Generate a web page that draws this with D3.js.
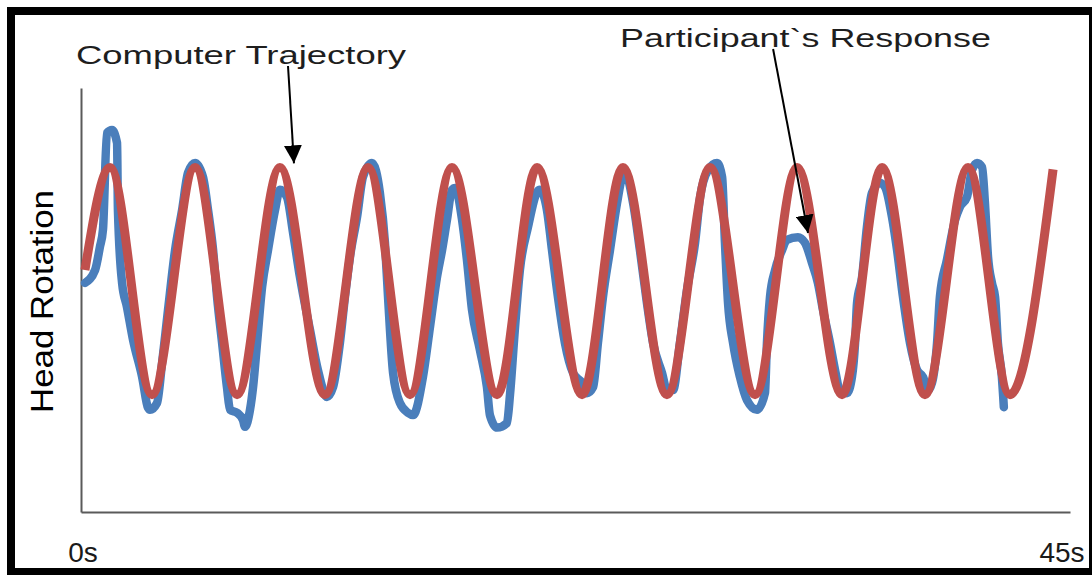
<!DOCTYPE html>
<html>
<head>
<meta charset="utf-8">
<script src="https://cdn.jsdelivr.net/npm/d3@7"></script>
<style>
  html, body { margin: 0; padding: 0; background: #ffffff; }
  svg { display: block; }
</style>
</head>
<body>
<svg id="chart" width="1092" height="575"></svg>
<script>
// ---------------- data ----------------
// Computer trajectory: turning points (time in s, head rotation in deg)
const computerTime = [0.18, 1.32, 3.23, 5.19, 7.10, 9.05, 11.10, 13.06, 14.97, 16.88, 18.93,
  20.75, 22.80, 24.66, 26.66, 28.62, 30.67, 32.58, 34.63, 36.45, 38.40, 40.36, 42.27, 44.23];
const computerAngle = [2.9, 30, -30, 30, -30, 30, -30, 30, -30, 30, -30,
  30, -30, 30, -30, 30, -30, 30, -30, 30, -30, 30, -30, 29.5];

// Participant's response (time in s, head rotation in deg)
const participantTime = [0.18, 0.64, 0.86, 1.00, 1.18, 1.41, 1.64, 1.68, 1.87, 2.09, 2.37, 2.78, 3.05, 3.14,
  3.46, 3.69, 3.96, 4.28, 4.60, 4.87, 5.19, 5.55, 5.78, 6.01, 6.19, 6.42, 6.64, 6.78, 7.10, 7.37, 7.46,
  7.69, 7.83, 8.01, 8.24, 8.51, 8.83, 9.05, 9.37, 9.65, 9.96, 10.42, 10.78, 11.19, 11.47, 11.78, 12.01,
  12.24, 12.56, 12.83, 13.24, 13.60, 13.83, 13.97, 14.20, 14.51, 14.88, 15.11, 15.56, 15.88, 16.20,
  16.43, 16.65, 16.88, 17.02, 17.34, 17.56, 17.79, 18.15, 18.47, 18.61, 18.93, 19.38, 19.52, 19.75,
  19.97, 20.34, 20.75, 20.88, 21.20, 21.43, 21.70, 22.02, 22.39, 22.80, 23.02, 23.30, 23.52, 23.75,
  24.07, 24.39, 24.62, 24.75, 25.12, 25.43, 25.75, 26.03, 26.44, 26.66, 26.94, 27.25, 27.57, 27.94,
  28.17, 28.53, 28.94, 29.17, 29.30, 29.44, 29.67, 29.98, 30.30, 30.76, 31.12, 31.21, 31.35, 31.58,
  31.90, 32.12, 32.62, 32.94, 33.26, 33.53, 33.76, 34.08, 34.31, 34.53, 34.85, 35.08, 35.22, 35.31,
  35.54, 35.76, 35.99, 36.35, 36.58, 36.90, 37.13, 37.40, 37.72, 38.04, 38.31, 38.54, 38.72, 38.95,
  39.08, 39.40, 39.77, 39.99, 40.31, 40.54, 40.77, 41.00, 41.13, 41.27, 41.45, 41.59, 41.72, 41.90, 41.99];
const participantAngle = [-0.5, 2.9, 9.0, 13.6, 39.1, 39.9, 36.5, 18.8, -0.5, -6.8, -15.6, -25.3, -33.5, -34.0,
  -32.2, -21.6, -7.6, 8.2, 18.8, 28.6, 31.2, 27.5, 18.8, 8.2, -4.2, -16.4, -28.0, -34.0, -34.8, -36.7, -38.5,
  -34.0, -28.0, -16.4, -1.6, 8.2, 18.8, 24.1, 22.2, 12.7, 1.1, -12.9, -23.5, -30.6, -28.0, -16.4, -4.2,
  6.4, 16.9, 27.5, 31.2, 23.3, 10.1, -4.2, -24.3, -32.2, -34.8, -35.4, -25.3, -12.1, 1.1,
  8.2, 16.1, 24.1, 24.6, 16.1, 5.6, -7.6, -18.2, -28.0, -35.5, -38.7, -37.5, -30.0, -12.1,
  2.9, 14.3, 23.5, 24.1, 18.8, 8.2, -4.2, -16.4, -24.3, -26.9, -29.6, -28.0, -16.4, -4.2,
  8.2, 20.6, 27.5, 28.6, 20.6, 8.2, -5.8, -16.4, -24.3, -28.8, -28.8, -16.4, -2.4, 10.1,
  22.2, 29.3, 31.2, 27.5, 10.1, -5.8, -16.4, -25.3, -31.4, -34.0, -29.6, -16.4, -4.2, 2.9,
  8.2, 10.9, 11.6, 10.1, 4.8, -0.5, -7.6, -16.4, -23.5, -28.8, -29.6, -25.3, -16.4, -5.8,
  1.1, 14.3, 23.3, 25.9, 24.9, 16.9, 8.2, -4.2, -16.4, -23.5, -25.3, -28.8, -26.9, -16.4,
  -4.2, 5.6, 16.1, 19.6, 22.2, 29.3, 31.2, 30.1, 20.6, 6.4, -0.5, -4.2, -16.4, -25.3, -33.3];

const xTickValues = [0, 45];
const xTickLabels = ["0s", "45s"];
const yAxisTitle = "Head Rotation";
const computerLabel = "Computer Trajectory";
const participantLabel = "Participant`s Response";

// ---------------- layout ----------------
const svg = d3.select("#chart");
const W = 1092, H = 575;

const x = d3.scaleLinear().domain([0, 45]).range([81, 1070]);
const y = d3.scaleLinear().domain([-61, 51]).range([512, 88]);

// white background
svg.append("rect").attr("x", 0).attr("y", 0).attr("width", W).attr("height", H).attr("fill", "#fff");

// axes (lines only)
const axisColor = "#5a5a5a";
const gx = svg.append("g").attr("transform", `translate(0,${y.range()[0]})`)
  .call(d3.axisBottom(x).tickValues([]).tickSizeOuter(0));
const gy = svg.append("g").attr("transform", `translate(${x.range()[0]},0)`)
  .call(d3.axisLeft(y).tickValues([]).tickSizeOuter(0));
[gx, gy].forEach(g => g.select(".domain").attr("stroke", axisColor).attr("stroke-width", 2));

// tick labels
svg.append("g").selectAll("text").data(xTickValues).join("text")
  .attr("x", (d, i) => x(d) + (i === 0 ? 2 : -8))
  .attr("y", 562)
  .attr("text-anchor", "middle")
  .attr("font-family", "'Liberation Sans', Arial, sans-serif")
  .attr("font-size", 28)
  .attr("fill", "#1a1a1a")
  .text((d, i) => xTickLabels[i]);

// y axis title
svg.append("text")
  .attr("transform", `translate(53,${(190 + 413) / 2}) rotate(-90)`)
  .attr("text-anchor", "middle")
  .attr("font-family", "'Liberation Sans', Arial, sans-serif")
  .attr("font-size", 32)
  .attr("textLength", 223)
  .attr("lengthAdjust", "spacingAndGlyphs")
  .attr("fill", "#000")
  .text(yAxisTitle);

// series
const participant = participantTime.map((t, i) => ({ t, v: participantAngle[i] }));
const computer = computerTime.map((t, i) => ({ t, v: computerAngle[i] }));

const line = d3.line().x(d => x(d.t)).y(d => y(d.v)).curve(d3.curveMonotoneX);

svg.append("path").datum(participant)
  .attr("d", line)
  .attr("fill", "none")
  .attr("stroke", "#4a7ebb")
  .attr("stroke-width", 8.5)
  .attr("stroke-linejoin", "round")
  .attr("stroke-linecap", "round");

svg.append("path").datum(computer)
  .attr("d", line)
  .attr("fill", "none")
  .attr("stroke", "#c0504d")
  .attr("stroke-width", 9)
  .attr("stroke-linejoin", "round")
  .attr("stroke-linecap", "butt");

// annotations
const defs = svg.append("defs");
defs.append("marker")
  .attr("id", "arrowhead")
  .attr("viewBox", "0 0 10 10")
  .attr("refX", 10).attr("refY", 5)
  .attr("markerWidth", 18).attr("markerHeight", 18)
  .attr("markerUnits", "userSpaceOnUse")
  .attr("orient", "auto")
  .append("path").attr("d", "M0,0 L10,5 L0,10 z").attr("fill", "#000");

const textFont = "'Liberation Sans', Arial, sans-serif";
svg.append("text")
  .attr("x", 76).attr("y", 64)
  .attr("font-family", textFont).attr("font-size", 26)
  .attr("textLength", 330).attr("lengthAdjust", "spacingAndGlyphs")
  .attr("fill", "#1e1e1e")
  .text(computerLabel);
svg.append("text")
  .attr("x", 620).attr("y", 47)
  .attr("font-family", textFont).attr("font-size", 26)
  .attr("textLength", 371).attr("lengthAdjust", "spacingAndGlyphs")
  .attr("fill", "#1e1e1e")
  .text(participantLabel);

// arrows: [from time, from angle, to time, to angle]
const arrows = [
  [9.42, 56.8, 9.69, 31.1],
  [31.49, 61.3, 33.08, 12.7]
];
svg.append("g").selectAll("line").data(arrows).join("line")
  .attr("x1", d => x(d[0])).attr("y1", d => y(d[1]))
  .attr("x2", d => x(d[2])).attr("y2", d => y(d[3]))
  .attr("stroke", "#000").attr("stroke-width", 2)
  .attr("marker-end", "url(#arrowhead)");

// outer frame
svg.append("rect")
  .attr("x", 11).attr("y", 11)
  .attr("width", 1093 - 11).attr("height", 572 - 11)
  .attr("fill", "none").attr("stroke", "#000").attr("stroke-width", 8);
</script>
</body>
</html>
